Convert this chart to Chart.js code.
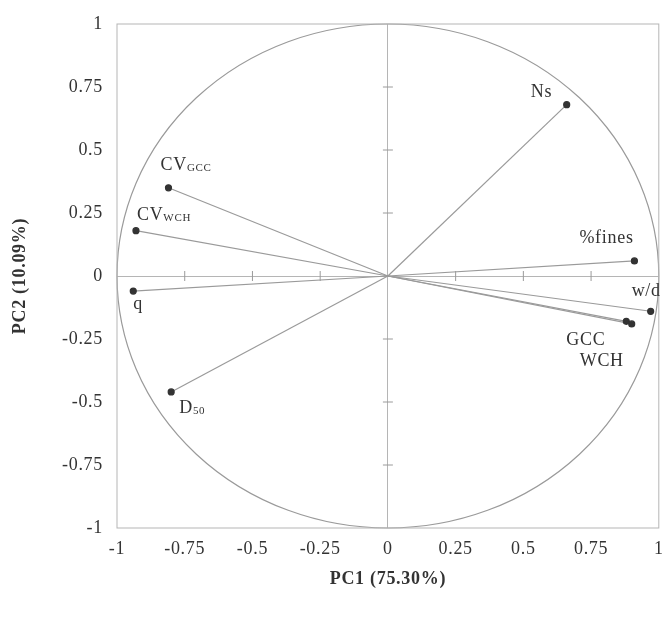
<!DOCTYPE html>
<html>
<head>
<meta charset="utf-8">
<script src="https://cdn.jsdelivr.net/npm/chart.js@4/dist/chart.umd.min.js"></script>
<style>
  html, body { margin: 0; padding: 0; background: #fff; }
  #wrap { width: 664px; height: 617px; }
</style>
</head>
<body>
<div id="wrap"><canvas id="pca" width="664" height="617"></canvas></div>
<script>
// loadings
const varNames = ['Ns', 'CV_GCC', 'CV_WCH', 'q', 'D50', '%fines', 'w/d', 'GCC', 'WCH'];
const pc1 = [0.66, -0.81, -0.93, -0.94, -0.80, 0.91, 0.97, 0.88, 0.90];
const pc2 = [0.68, 0.35, 0.18, -0.06, -0.46, 0.06, -0.14, -0.18, -0.19];
const tickValues = [-1, -0.75, -0.5, -0.25, 0, 0.25, 0.5, 0.75, 1];
const tickLabels = ['-1', '-0.75', '-0.5', '-0.25', '0', '0.25', '0.5', '0.75', '1'];

// label text: [main, subscript, dx, dy]
const labelInfo = {
  'Ns': ['Ns', '', -36, -8],
  'CV_GCC': ['CV', 'GCC', -8, -18],
  'CV_WCH': ['CV', 'WCH', 1, -11],
  'q': ['q', '', 0, 18],
  'D50': ['D', '50', 8, 21],
  '%fines': ['%fines', '', -55, -18],
  'w/d': ['w/d', '', -19, -15],
  'GCC': ['GCC', '', -60, 24],
  'WCH': ['WCH', '', -52, 42]
};

const grey = '#9a9a9a';
const ink = '#333333';

const datasets = varNames.map(function (name, i) {
  return {
    label: name,
    data: [{ x: 0, y: 0 }, { x: pc1[i], y: pc2[i] }],
    showLine: true,
    borderColor: grey,
    borderWidth: 1.2,
    pointRadius: [0, 3],
    pointBackgroundColor: ink,
    pointBorderColor: ink
  };
});

// the original figure is stretched sideways, so widen the text a little
const spacingPlugin = {
  id: 'spacing',
  beforeLayout: function (chart) { chart.ctx.letterSpacing = '0.7px'; },
  beforeDraw: function (chart) { chart.ctx.letterSpacing = '0.7px'; }
};

const circlePlugin = {
  id: 'circle',
  beforeDatasetsDraw: function (chart) {
    const ctx = chart.ctx, xs = chart.scales.x, ys = chart.scales.y;
    const cx = xs.getPixelForValue(0), cy = ys.getPixelForValue(0);
    const rx = xs.getPixelForValue(1) - cx, ry = cy - ys.getPixelForValue(1);
    ctx.save();
    ctx.strokeStyle = grey;
    ctx.lineWidth = 1.2;
    ctx.beginPath();
    ctx.ellipse(cx, cy, rx, ry, 0, 0, Math.PI * 2);
    ctx.stroke();
    // small ticks on zero lines
    ctx.lineWidth = 1;
    tickValues.forEach(function (v) {
      if (v === 0 || Math.abs(v) === 1) return;
      const px = xs.getPixelForValue(v), py = ys.getPixelForValue(v);
      ctx.beginPath();
      ctx.moveTo(px, cy - 5); ctx.lineTo(px, cy + 5);
      ctx.moveTo(cx - 5, py); ctx.lineTo(cx + 5, py);
      ctx.stroke();
    });
    // border box
    const a = chart.chartArea;
    ctx.strokeStyle = '#b5b5b5';
    ctx.strokeRect(a.left, a.top, a.right - a.left, a.bottom - a.top);
    ctx.restore();
  }
};

const labelPlugin = {
  id: 'varLabels',
  afterDatasetsDraw: function (chart) {
    const ctx = chart.ctx, xs = chart.scales.x, ys = chart.scales.y;
    ctx.save();
    ctx.fillStyle = ink;
    ctx.textBaseline = 'alphabetic';
    varNames.forEach(function (name, i) {
      const info = labelInfo[name];
      const px = xs.getPixelForValue(pc1[i]) + info[2];
      const py = ys.getPixelForValue(pc2[i]) + info[3];
      ctx.font = '18px "Liberation Serif"';
      ctx.fillText(info[0], px, py);
      if (info[1]) {
        const w = ctx.measureText(info[0]).width;
        ctx.font = '11px "Liberation Serif"';
        ctx.fillText(info[1], px + w, py + 1);
      }
    });
    ctx.restore();
  }
};

new Chart(document.getElementById('pca'), {
  type: 'scatter',
  data: { datasets: datasets },
  plugins: [spacingPlugin, circlePlugin, labelPlugin],
  options: {
    responsive: false,
    animation: false,
    layout: { padding: { top: 24, right: 3, left: 0, bottom: 0 } },
    plugins: { legend: { display: false }, tooltip: { enabled: false } },
    scales: {
      x: {
        type: 'linear',
        min: -1, max: 1,
        afterBuildTicks: function (s) { s.ticks = tickValues.map(function (v) { return { value: v }; }); },
        afterFit: function (s) { s.height = 89; s.paddingLeft = 0; s.paddingRight = 0; },
        ticks: {
          callback: function (v) { return tickLabels[tickValues.indexOf(v)]; },
          color: ink,
          font: { family: 'Liberation Serif', size: 18 },
          padding: 10,
          maxRotation: 0
        },
        grid: {
          drawTicks: false,
          color: function (c) { return c.tick && c.tick.value === 0 ? '#b5b5b5' : 'rgba(0,0,0,0)'; }
        },
        border: { display: false },
        title: {
          display: true,
          text: 'PC1 (75.30%)',
          color: ink,
          font: { family: 'Liberation Serif', size: 18, weight: 'bold' },
          padding: { top: 0, bottom: 27 }
        }
      },
      y: {
        type: 'linear',
        min: -1, max: 1,
        afterBuildTicks: function (s) { s.ticks = tickValues.map(function (v) { return { value: v }; }); },
        afterFit: function (s) { s.width = 117; s.paddingTop = 0; s.paddingBottom = 0; },
        ticks: {
          callback: function (v) { return tickLabels[tickValues.indexOf(v)]; },
          color: ink,
          font: { family: 'Liberation Serif', size: 18 },
          padding: 14
        },
        grid: {
          drawTicks: false,
          color: function (c) { return c.tick && c.tick.value === 0 ? '#b5b5b5' : 'rgba(0,0,0,0)'; }
        },
        border: { display: false },
        title: {
          display: true,
          text: 'PC2 (10.09%)',
          color: ink,
          font: { family: 'Liberation Serif', size: 18, weight: 'bold' },
          padding: { top: 10, bottom: 0 }
        }
      }
    }
  }
});
</script>
</body>
</html>
